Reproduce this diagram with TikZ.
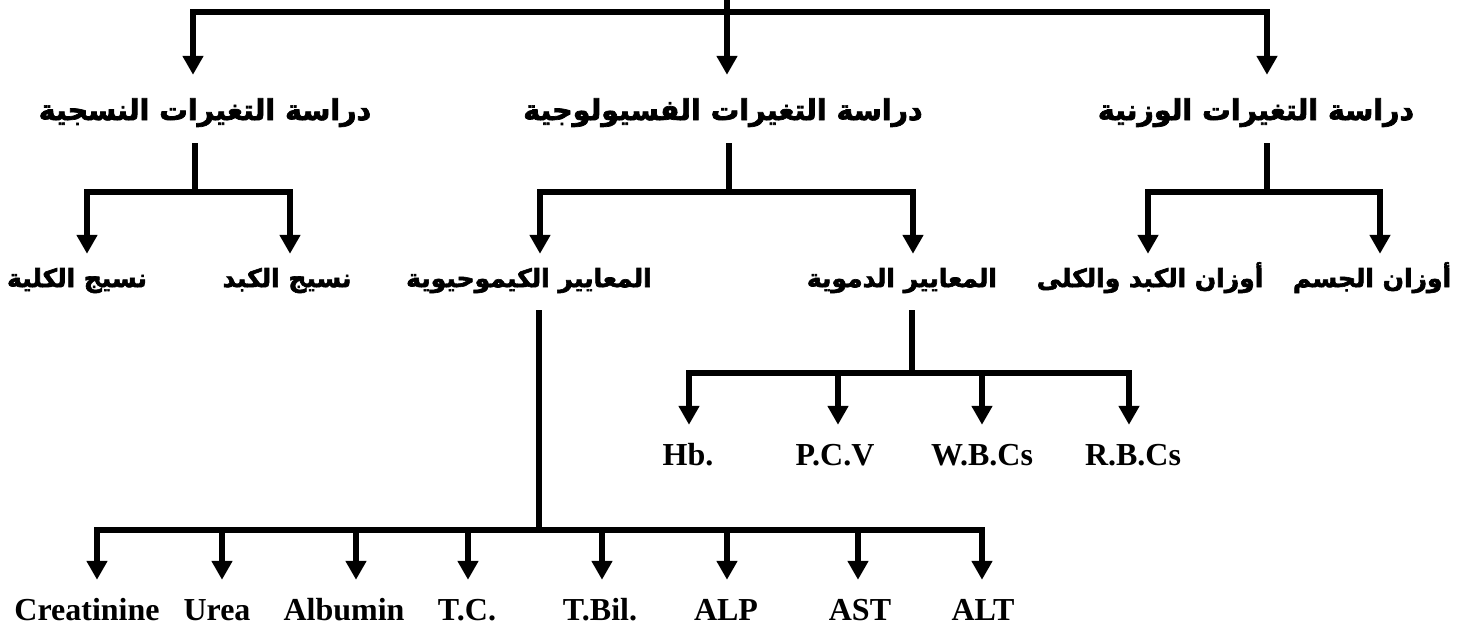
\documentclass[tikz,border=0pt]{standalone}
\usepackage{fontspec}
\setmainfont{Liberation Serif}
\newfontfamily\arabicfont[Script=Arabic, BoldFeatures={FakeBold=2.5}]{DejaVu Sans}
\TeXXeTstate=1
\usetikzlibrary{arrows.meta}
\begin{document}
\begin{tikzpicture}[x=1pt,y=-1pt,
  ln/.style={line width=6pt},
  arr/.style={ln,-{Triangle[width=20pt,length=19pt]}},
  ar1/.style={inner sep=0pt, anchor=base, font=\arabicfont\bfseries\fontsize{28.5}{32}\selectfont, text height=45pt, text depth=23pt},
  ar2/.style={inner sep=0pt, anchor=base, font=\arabicfont\bfseries\fontsize{25}{29}\selectfont, text height=33pt, text depth=23pt},
  en/.style={inner sep=0pt, anchor=base, font=\bfseries\fontsize{32}{36}\selectfont, text height=40pt, text depth=0pt}]
\useasboundingbox (0,0) rectangle (1465,626);

% level 1
\node[ar1] (hist) at (205,120) {\beginR دراسة التغيرات النسجية\endR};
\node[ar1] (phys) at (723,120) {\beginR دراسة التغيرات الفسيولوجية\endR};
\node[ar1] (wt)   at (1256,120) {\beginR دراسة التغيرات الوزنية\endR};

% level 2
\node[ar2] (kid)   at (77,287)   {\beginR نسيج الكلية\endR};
\node[ar2] (liv)   at (287,287)  {\beginR نسيج الكبد\endR};
\node[ar2] (chem)  at (529,287)  {\beginR المعايير الكيموحيوية\endR};
\node[ar2] (blood) at (902,287)  {\beginR المعايير الدموية\endR};
\node[ar2] (orgw)  at (1150,287) {\beginR أوزان الكبد والكلى\endR};
\node[ar2] (bodyw) at (1372,287) {\beginR أوزان الجسم\endR};

% blood labels
\node[en] (hb)  at (688,465)  {Hb.};
\node[en] (pcv) at (835,465)  {P.C.V};
\node[en] (wbc) at (982,465)  {W.B.Cs};
\node[en] (rbc) at (1133,465) {R.B.Cs};

% chemistry labels
\node[en] (cre) at (87,620)  {Creatinine};
\node[en] (ure) at (217,620) {Urea};
\node[en] (alb) at (344,620) {Albumin};
\node[en] (tc)  at (467,620) {T.C.};
\node[en] (tbi) at (600,620) {T.Bil.};
\node[en] (alp) at (726,620) {ALP};
\node[en] (ast) at (860,620) {AST};
\node[en] (alt) at (983,620) {ALT};

% junctions
\coordinate (top) at (727,0);
\coordinate (j0) at (727,12);
\coordinate (j1) at (195,192);
\coordinate (j2) at (729,192);
\coordinate (j3) at (1267,192);
\coordinate (j4) at (539,530);
\coordinate (j5) at (912,373);

% top
\draw[ln] (top) -- (j0);
\draw[arr] (j0) -| ([xshift=-12pt]hist.north);
\draw[arr] (j0) -| ([xshift=4pt]phys.north);
\draw[arr] (j0) -| ([xshift=11pt]wt.north);

% histology
\draw[ln] (hist.south -| j1) -- (j1);
\draw[arr] (j1) -| ([xshift=10pt]kid.north);
\draw[arr] (j1) -| ([xshift=3pt]liv.north);

% physiology
\draw[ln] (phys.south -| j2) -- (j2);
\draw[arr] (j2) -| ([xshift=11pt]chem.north);
\draw[arr] (j2) -| ([xshift=11pt]blood.north);

% weights
\draw[ln] (wt.south -| j3) -- (j3);
\draw[arr] (j3) -| ([xshift=-2pt]orgw.north);
\draw[arr] (j3) -| ([xshift=8pt]bodyw.north);

% blood
\draw[ln] (blood.south -| j5) -- (j5);
\draw[arr] (j5) -| ([xshift=1pt]hb.north);
\draw[arr] (j5) -| ([xshift=3pt]pcv.north);
\draw[arr] (j5) -| (wbc.north);
\draw[arr] (j5) -| ([xshift=-4pt]rbc.north);

% chemistry
\draw[ln] (chem.south -| j4) -- (j4);
\draw[arr] (j4) -| ([xshift=10pt]cre.north);
\draw[arr] (j4) -| ([xshift=5pt]ure.north);
\draw[arr] (j4) -| ([xshift=12pt]alb.north);
\draw[arr] (j4) -| ([xshift=1pt]tc.north);
\draw[arr] (j4) -| ([xshift=2pt]tbi.north);
\draw[arr] (j4) -| ([xshift=1pt]alp.north);
\draw[arr] (j4) -| ([xshift=-2pt]ast.north);
\draw[arr] (j4) -| ([xshift=-1pt]alt.north);
\end{tikzpicture}
\end{document}
